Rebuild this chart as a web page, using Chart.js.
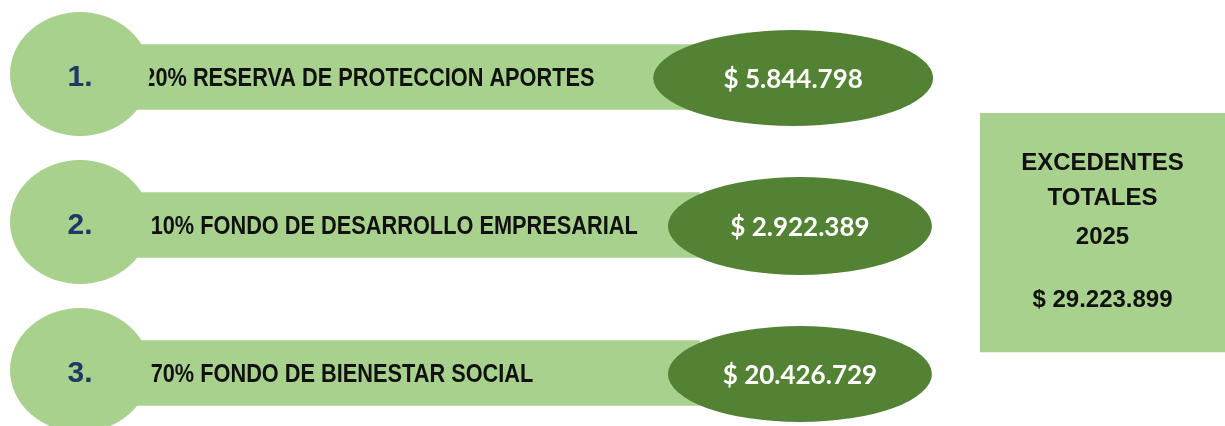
<!DOCTYPE html>
<html lang="es">
<head>
<meta charset="utf-8">
<title>Excedentes totales 2025</title>
<script src="https://cdn.jsdelivr.net/npm/chart.js@4/dist/chart.umd.min.js"></script>
<style>
  html, body { margin: 0; padding: 0; background: #ffffff; }
  #wrap { position: relative; width: 1225px; height: 426px; }
</style>
</head>
<body>
<div id="wrap"><canvas id="excedentes"></canvas></div>
<script>
// Datos de la distribución
const rowNumbers = ['1.', '2.', '3.'];
const shares = [20, 10, 70];
const funds = ['RESERVA DE PROTECCION APORTES', 'FONDO DE DESARROLLO EMPRESARIAL', 'FONDO DE BIENESTAR SOCIAL'];
const amounts = [5844798, 2922389, 20426729];
const totalTitle = ['EXCEDENTES', 'TOTALES', '2025'];
const totalAmount = 29223899;

// Estilos / colores
const LIGHT = '#a9d18e';
const DARK = '#548235';
const NAVY = '#1f3864';

// Posiciones de la maqueta (unidades de la escala x oculta: 0-100)
const LAYOUT = {
    badgeX: 6.53,
    barFrom: 6.53,
    barTo: 57.1,
    labelX: [11.7, 12.3, 12.3],
    labelSqueeze: 0.87, // la fuente original es condensada
    pillX: [64.75, 65.3, 65.3],
    pillRx: [140, 132, 132],
    pillRy: [48, 49, 48],
    boxFrom: 80.0,
    boxTo: 100,
    boxTop: 0.243,     // en unidades de la escala de filas
    boxBottom: 1.86
};

const formatMoney = (n) => '$ ' + String(n).replace(/\B(?=(\d{3})+(?!\d))/g, '.');

const ellipse = (ctx, x, y, rx, ry, color) => {
    ctx.beginPath();
    ctx.ellipse(x, y, rx, ry, 0, 0, Math.PI * 2);
    ctx.fillStyle = color;
    ctx.fill();
};

const infographic = {
    id: 'infographic',
    afterDatasetsDraw(chart) {
        const { ctx, scales: { x, y } } = chart;
        ctx.save();
        ctx.textBaseline = 'middle';

        // Cuadro de total
        const bx0 = x.getPixelForValue(LAYOUT.boxFrom);
        const bx1 = x.getPixelForValue(LAYOUT.boxTo);
        const by0 = y.getPixelForValue(LAYOUT.boxTop);
        const by1 = y.getPixelForValue(LAYOUT.boxBottom);
        ctx.fillStyle = LIGHT;
        ctx.fillRect(bx0, by0, bx1 - bx0, by1 - by0);
        ctx.fillStyle = '#111111';
        ctx.textAlign = 'center';
        ctx.font = 'bold 24px "Liberation Sans", Arial, sans-serif';
        const bcx = (bx0 + bx1) / 2;
        const lineY = [50, 85, 124];
        totalTitle.forEach((t, i) => ctx.fillText(t, bcx, by0 + lineY[i]));
        ctx.fillText(formatMoney(totalAmount), bcx, by0 + 187);

        funds.forEach((fund, i) => {
            const cy = y.getPixelForValue(i);

            // Etiqueta del fondo (condensada)
            ctx.save();
            ctx.translate(x.getPixelForValue(LAYOUT.labelX[i]), cy + 2);
            ctx.scale(LAYOUT.labelSqueeze, 1);
            ctx.textAlign = 'left';
            ctx.fillStyle = '#111111';
            ctx.font = 'bold 25px "Liberation Sans", Arial, sans-serif';
            ctx.fillText(shares[i] + '% ' + fund, 0, 0);
            ctx.restore();

            // Círculo con número
            const cx = x.getPixelForValue(LAYOUT.badgeX);
            ellipse(ctx, cx, cy - 3, 70, 62, LIGHT);
            ctx.textAlign = 'center';
            ctx.fillStyle = NAVY;
            ctx.font = 'bold 30px "Liberation Sans", Arial, sans-serif';
            ctx.fillText(rowNumbers[i], cx, cy + 1);

            // Óvalo con valor
            const px = x.getPixelForValue(LAYOUT.pillX[i]);
            ellipse(ctx, px, cy + 1, LAYOUT.pillRx[i], LAYOUT.pillRy[i], DARK);
            ctx.fillStyle = '#ffffff';
            ctx.font = 'bold 26px Lato, "Open Sans", sans-serif';
            ctx.fillText(formatMoney(amounts[i]), px, cy + 3);
        });

        ctx.restore();
    }
};

new Chart(document.getElementById('excedentes'), {
    type: 'bar',
    data: {
        labels: funds,
        datasets: [{
            data: funds.map(() => [LAYOUT.barFrom, LAYOUT.barTo]),
            backgroundColor: LIGHT,
            borderWidth: 0,
            borderSkipped: false,
            barThickness: 65,
            clip: false
        }]
    },
    options: {
        indexAxis: 'y',
        responsive: true,
        maintainAspectRatio: false,
        animation: false,
        layout: { padding: { top: 77, bottom: 53, left: 0, right: 0 } },
        scales: {
            x: { type: 'linear', min: 0, max: 100, display: false },
            y: { type: 'category', offset: false, display: false }
        },
        plugins: {
            legend: { display: false },
            tooltip: { enabled: false }
        }
    },
    plugins: [infographic]
});
</script>
</body>
</html>
